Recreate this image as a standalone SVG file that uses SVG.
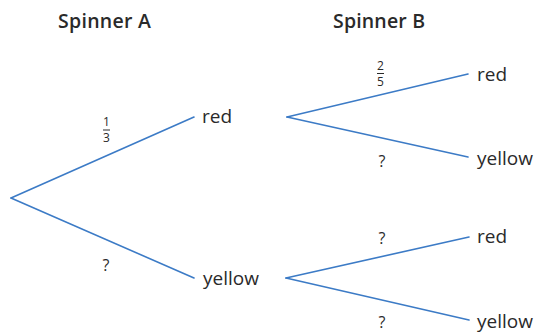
<svg xmlns="http://www.w3.org/2000/svg" width="537" height="336" viewBox="0 0 537 336">
<style>
.e{stroke:#3c7bc6;stroke-width:1.6;fill:none;stroke-linecap:round}
.t{font-family:"Open Sans","Liberation Sans",sans-serif;fill:#2a2a2a}
.h{font-size:19.5px;font-weight:600}
.n{font-size:19px}
.q{font-size:16px;text-anchor:middle}
.f{font-size:12px;text-anchor:middle}
.bar{stroke:#2a2a2a;stroke-width:1}
</style>
<rect width="537" height="336" fill="#fff"/>
<g id="headers">
<text class="t h" x="58" y="28" textLength="93">Spinner A</text>
<text class="t h" x="333" y="28" textLength="92">Spinner B</text>
</g>
<g id="connectors">
<line class="e" x1="11" y1="198" x2="194" y2="117"/>
<line class="e" x1="11" y1="198" x2="194" y2="278"/>
<line class="e" x1="287" y1="117" x2="468" y2="74"/>
<line class="e" x1="287" y1="117" x2="468" y2="157"/>
<line class="e" x1="286" y1="278" x2="469" y2="237"/>
<line class="e" x1="286" y1="278" x2="469" y2="320"/>
</g>
<g id="node-a-red"><text class="t n" x="202" y="123">red</text></g>
<g id="node-a-yellow"><text class="t n" x="203" y="285">yellow</text></g>
<g id="node-b1-red"><text class="t n" x="477" y="81">red</text></g>
<g id="node-b1-yellow"><text class="t n" x="477" y="165">yellow</text></g>
<g id="node-b2-red"><text class="t n" x="477" y="243">red</text></g>
<g id="node-b2-yellow"><text class="t n" x="477" y="328">yellow</text></g>
<g id="labels">
<text class="t f" x="106.5" y="126">1</text>
<line class="bar" x1="103" y1="130" x2="110" y2="130"/>
<text class="t f" x="106.5" y="142">3</text>
<text class="t f" x="380.5" y="70">2</text>
<line class="bar" x1="377" y1="73.5" x2="384" y2="73.5"/>
<text class="t f" x="380.5" y="86">5</text>
<text class="t q" x="106" y="271">?</text>
<text class="t q" x="382" y="167">?</text>
<text class="t q" x="382" y="244">?</text>
<text class="t q" x="382" y="328">?</text>
</g>
</svg>
